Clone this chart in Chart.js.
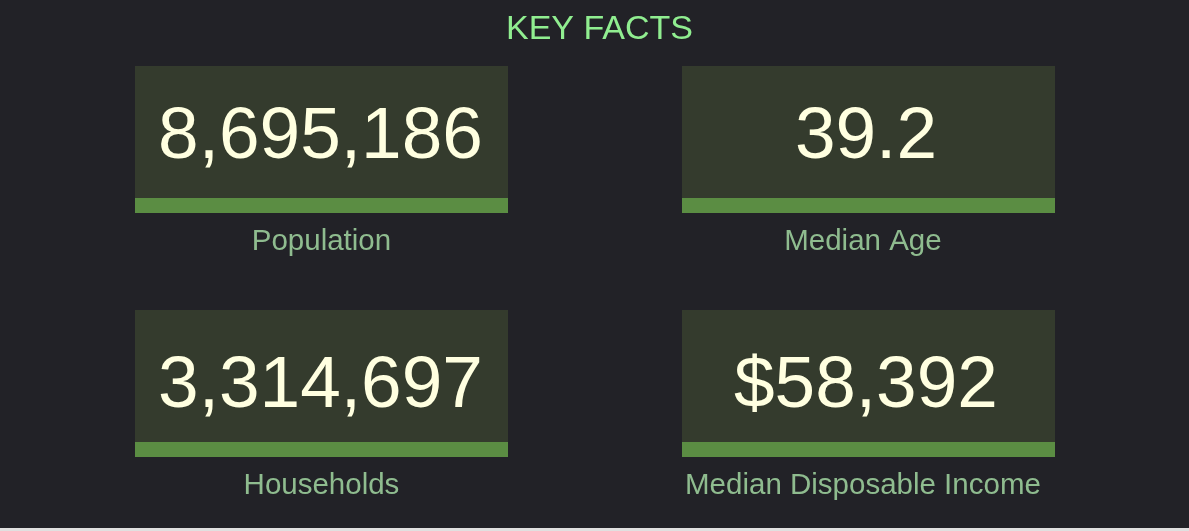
<!DOCTYPE html>
<html>
<head>
<meta charset="utf-8">
<title>Key Facts</title>
<script src="https://cdn.jsdelivr.net/npm/chart.js@4/dist/chart.umd.min.js"></script>
<style>
  html, body { margin: 0; padding: 0; background: #e0e0e0; }
  #wrap { width: 1189px; height: 528px; background: #222227; position: relative; }
</style>
</head>
<body>
<div id="wrap"><canvas id="facts"></canvas></div>
<script>
// Key facts
const factLabels = ['Population', 'Median Age', 'Households', 'Median Disposable Income'];
const factValues = [8695186, 39.2, 3314697, 58392];
const factPrefixes = ['', '', '', '$'];
// grid cell of each fact (column, row)
const factCols = [0, 1, 0, 1];
const factRows = [0, 0, 1, 1];

const fontFamily = '"Liberation Sans", Arial, Helvetica, sans-serif';
Chart.defaults.font.family = fontFamily;

function formatValue(i) {
    return factPrefixes[i] + factValues[i].toLocaleString('en-US');
}

// Draw a card for each point, centred on the point's x, top at its y
const cardPlugin = {
    id: 'factCards',
    afterDatasetsDraw(chart) {
        const ctx = chart.ctx;
        const meta = chart.getDatasetMeta(0);
        const cardW = 373, cardH = 132, barH = 15;
        const valueOffset = [91.5, 97];   // baseline of the number, per row
        const valueShift = [-1, -2.5];     // small x nudge, per column
        const labelShift = [0, -5.5];
        meta.data.forEach((pt, i) => {
            const cx = pt.x;
            const top = Math.round(pt.y);
            const left = Math.round(cx - cardW / 2);
            ctx.save();
            ctx.fillStyle = '#343b2d';
            ctx.fillRect(left, top, cardW, cardH);
            ctx.fillStyle = '#5b8d43';
            ctx.fillRect(left, top + cardH, cardW, barH);

            ctx.textAlign = 'center';
            ctx.textBaseline = 'alphabetic';
            ctx.fillStyle = '#ffffe0';
            ctx.font = '73px ' + fontFamily;
            ctx.fillText(formatValue(i), cx + valueShift[factCols[i]], top + valueOffset[factRows[i]]);

            ctx.fillStyle = '#8fbc8f';
            ctx.font = '29.5px ' + fontFamily;
            ctx.fillText(factLabels[i], cx + labelShift[factCols[i]], top + 184);
            ctx.restore();
        });
    }
};

const factsChart = new Chart(document.getElementById('facts'), {
    type: 'scatter',
    data: {
        labels: factLabels,
        datasets: [{
            label: 'Key facts',
            data: factCols.map((c, i) => ({ x: c, y: factRows[i] })),
            pointRadius: 0,
            pointHoverRadius: 0
        }]
    },
    options: {
        responsive: true,
        maintainAspectRatio: false,
        animation: false,
        events: [],
        layout: {
            padding: { left: 58, right: 48, top: 0, bottom: 22.8 }
        },
        scales: {
            x: { type: 'linear', min: -0.4817, max: 1.4983, display: false },
            y: { type: 'linear', min: 0, max: 1.8, reverse: true, display: false }
        },
        plugins: {
            legend: { display: false },
            tooltip: { enabled: false },
            title: {
                display: true,
                text: 'KEY FACTS',
                color: '#90ee90',
                font: { size: 34, weight: 'normal' },
                padding: { top: 9, bottom: 16.2 }
            }
        }
    },
    plugins: [cardPlugin]
});
</script>
</body>
</html>
